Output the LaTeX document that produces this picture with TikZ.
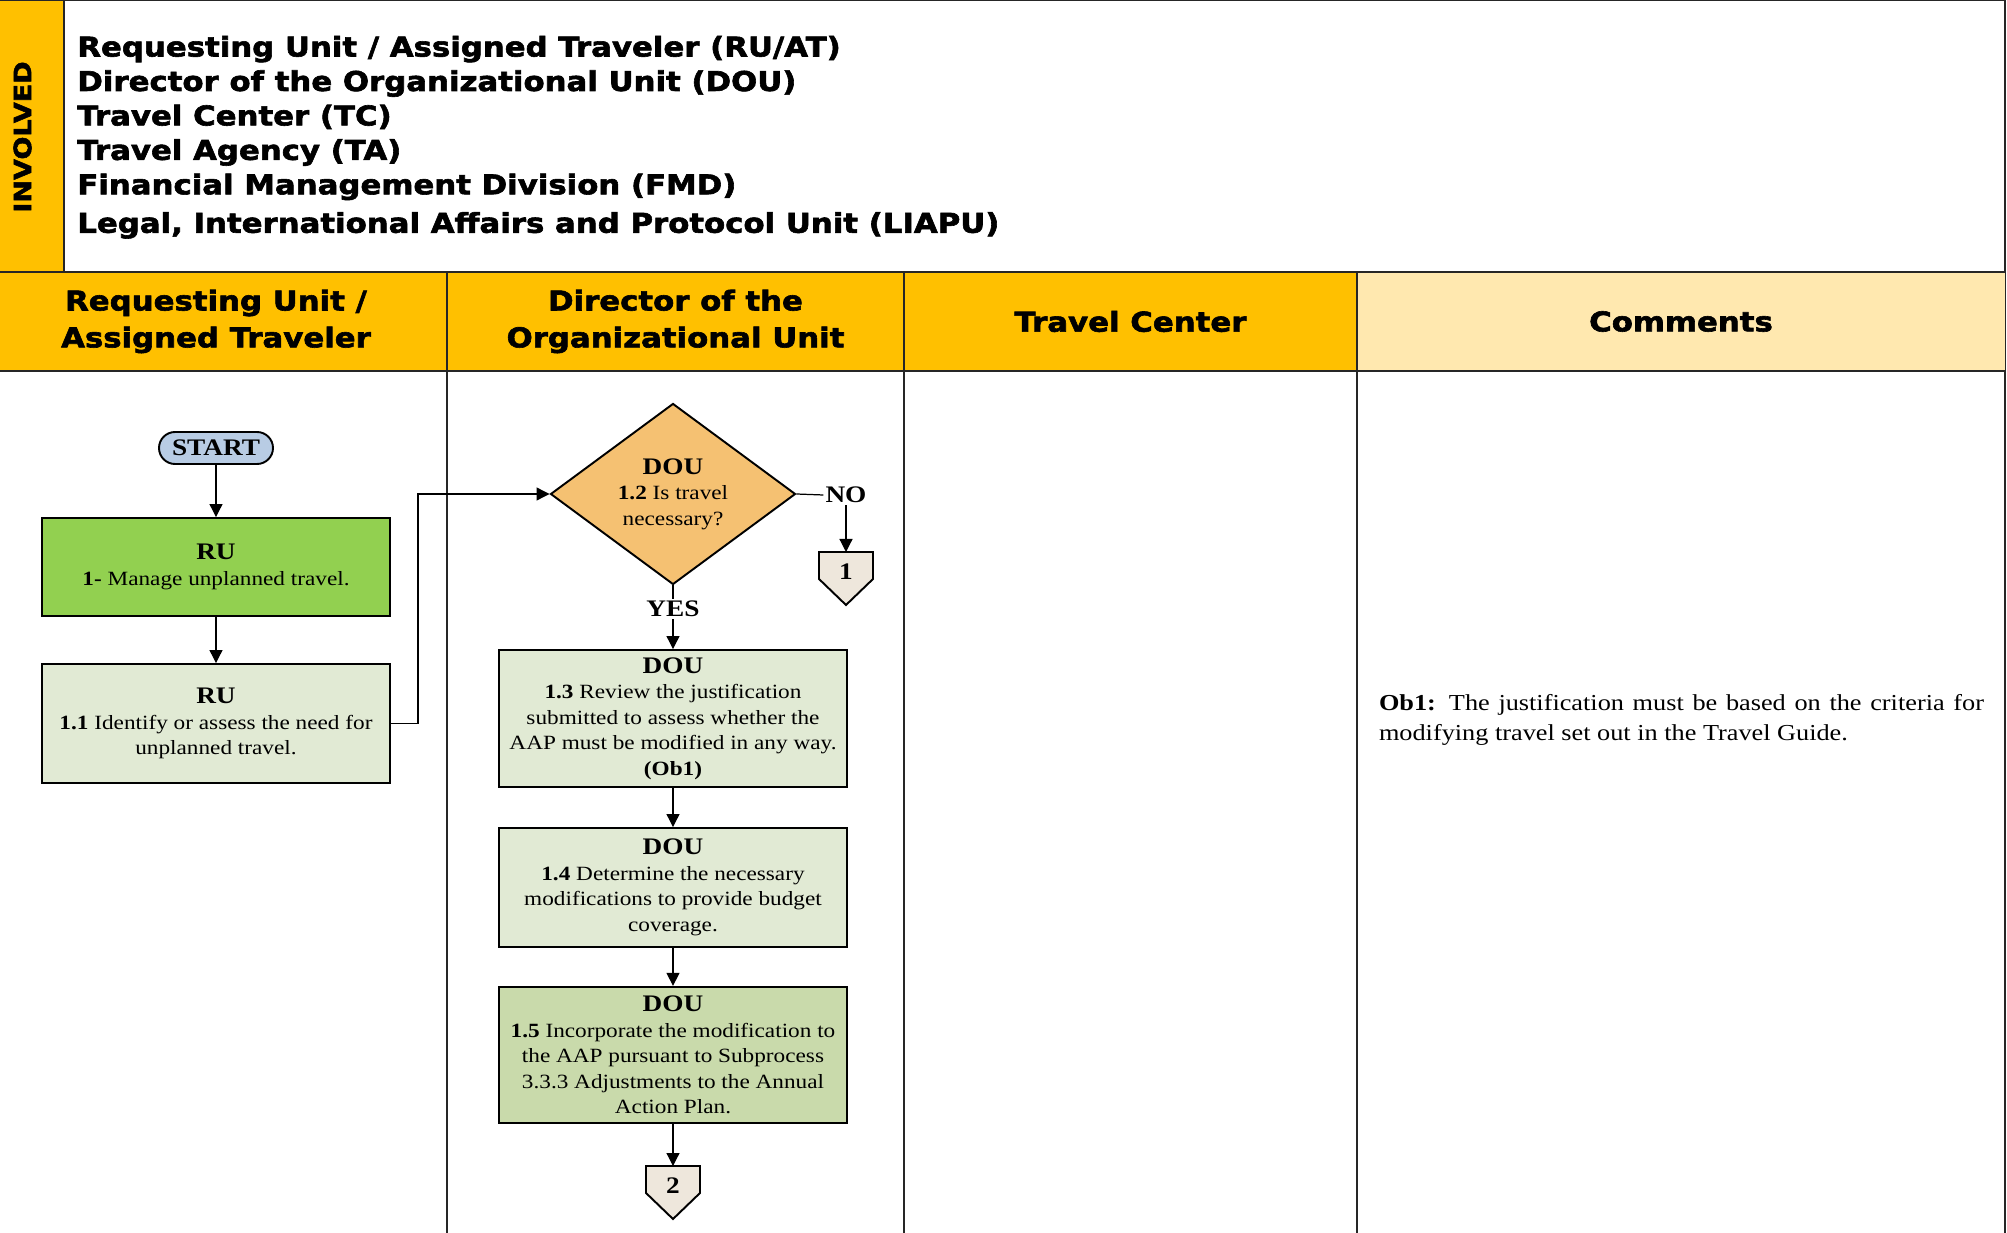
\documentclass[tikz,border=0pt]{standalone}
\usepackage{fontspec}
\setmainfont{Liberation Serif}[FakeStretch=1.15]
\newfontfamily\headfont{DejaVu Sans}[FakeStretch=1.13, BoldFeatures={FakeBold=2.2}]
\usetikzlibrary{shapes.geometric,arrows.meta}

\definecolor{laneyellow}{HTML}{FFC000}
\definecolor{notesyellow}{HTML}{FFE8AF}
\definecolor{startblue}{HTML}{B8CCE4}
\definecolor{stepgreen}{HTML}{92D050}
\definecolor{paleolive}{HTML}{E1EAD4}
\definecolor{midolive}{HTML}{C9DAAB}
\definecolor{askorange}{HTML}{F5C172}
\definecolor{linkbeige}{HTML}{EEE7DC}

\newcommand{\who}[1]{{\fontsize{13.5}{14.5}\selectfont\bfseries #1}}

\tikzset{
  frame/.style={line width=1.4pt, draw=black!85},
  hdr/.style={font=\headfont\bfseries\fontsize{15.5}{21}\selectfont, align=center, inner sep=0pt},
  task/.style={draw, line width=1.1pt, fill=paleolive, minimum width=6.96cm,
    align=center, inner sep=1pt, font=\fontsize{11.5}{14.5}\selectfont},
  ask/.style={draw, line width=1.1pt, fill=askorange, diamond, shape aspect=1.35,
    minimum width=4.9cm, minimum height=3.62cm, inner sep=0pt, align=center,
    font=\fontsize{11.5}{14.5}\selectfont},
  tag/.style={font=\bfseries\fontsize{13.5}{14.5}\selectfont, inner sep=1pt},
  flow/.style={-{Triangle[length=0.26cm,width=0.26cm]}, line width=0.7pt},
  offpage/.style={draw, line width=1.1pt, fill=linkbeige, line join=miter}
}

\begin{document}
\begin{tikzpicture}
    \useasboundingbox (0,0) rectangle (40.14,-24.66);

    % Involved parties
    \fill[laneyellow] (0,0) rectangle (1.28,-5.44);
    \draw[frame] (0,0) -- (40.10,0) -- (40.10,-24.66);
    \draw[frame] (1.28,0) -- (1.28,-5.44);
    \node[rotate=90, font=\headfont\bfseries\fontsize{13.6}{14}\selectfont] (involvedtag) at (0.45,-2.74) {INVOLVED};
    \node[anchor=north west, align=left, inner sep=0pt, font=\headfont\bfseries\fontsize{15.5}{19.6}\selectfont] (involved) at (1.54,-0.71)
      {Requesting Unit / Assigned Traveler (RU/AT)\\
       Director of the Organizational Unit (DOU)\\
       Travel Center (TC)\\
       Travel Agency (TA)\\
       Financial Management Division (FMD)\\[0.08cm]
       Legal, International Affairs and Protocol Unit (LIAPU)};

    % Lane headers
    \fill[laneyellow] (0,-5.44) rectangle (27.14,-7.42);
    \fill[notesyellow] (27.14,-5.44) rectangle (40.10,-7.42);
    \draw[frame] (0,-5.44) -- (40.10,-5.44);
    \draw[frame] (0,-7.42) -- (40.10,-7.42);
    \draw[frame] (8.94,-5.44) -- (8.94,-24.66);
    \draw[frame] (18.08,-5.44) -- (18.08,-24.66);
    \draw[frame] (27.14,-5.44) -- (27.14,-24.66);
    \node[hdr] (laneru) at (4.32,-6.43) {Requesting Unit /\\Assigned Traveler};
    \node[hdr] (lanedou) at (13.51,-6.43) {Director of the\\Organizational Unit};
    \node[hdr] (lanetc) at (22.61,-6.43) {Travel Center};
    \node[hdr] (lanenotes) at (33.62,-6.43) {Comments};

    % Requesting unit lane
    \node[draw, line width=1.1pt, fill=startblue, rounded corners=0.32cm, minimum width=2.28cm,
      minimum height=0.64cm, inner sep=0pt, font=\bfseries\fontsize{13.5}{14}\selectfont] (start) at (4.32,-8.96) {START};
    \node[task, fill=stepgreen, minimum height=1.96cm] (ru1) at (4.32,-11.34)
      {\who{RU}\\\textbf{1-} Manage unplanned travel.};
    \node[task, minimum height=2.38cm] (ru11) at (4.32,-14.47)
      {\who{RU}\\\textbf{1.1} Identify or assess the need for\\unplanned travel.};

    % Director lane
    \node[ask] (dou12) at (13.46,-9.88) {\who{DOU}\\\textbf{1.2} Is travel\\necessary?};
    \node[tag] (no) at (16.92,-9.90) {NO};
    \node[tag] (yes) at (13.46,-12.18) {YES};
    \node[task, minimum height=2.74cm] (dou13) at (13.46,-14.37)
      {\who{DOU}\\\textbf{1.3} Review the justification\\submitted to assess whether the\\AAP must be modified in any way.\\\textbf{(Ob1)}};
    \node[task, minimum height=2.38cm] (dou14) at (13.46,-17.75)
      {\who{DOU}\\\textbf{1.4} Determine the necessary\\modifications to provide budget\\coverage.};
    \node[task, fill=midolive, line width=1.3pt, minimum height=2.72cm] (dou15) at (13.46,-21.10)
      {\who{DOU}\\\textbf{1.5} Incorporate the modification to\\the AAP pursuant to Subprocess\\3.3.3 Adjustments to the Annual\\Action Plan.};

    % Off-page connectors
    \coordinate (off1) at (16.92,-11.04);
    \draw[offpage] (off1) ++(-0.54,0) -- ++(1.08,0) -- ++(0,-0.54) -- ++(-0.54,-0.52) -- ++(-0.54,0.52) -- cycle;
    \node[tag] (off1num) at ([yshift=-0.4cm]off1) {1};
    \coordinate (off2) at (13.46,-23.32);
    \draw[offpage] (off2) ++(-0.54,0) -- ++(1.08,0) -- ++(0,-0.54) -- ++(-0.54,-0.52) -- ++(-0.54,0.52) -- cycle;
    \node[tag] (off2num) at ([yshift=-0.4cm]off2) {2};

    % Comments
    \node[align=justify, text width=12.1cm, inner sep=0pt, font=\fontsize{13}{17}\selectfont] (ob1note) at (33.63,-14.40)
      {\textbf{Ob1:} The justification must be based on the criteria for\linebreak modifying travel set out in the Travel Guide.};

    % Connectors
    \coordinate (bend) at (8.36,-9.88);
    \draw[flow] (start) -- (ru1);
    \draw[flow] (ru1) -- (ru11);
    \draw[flow] (ru11.east) -| (bend) -- (dou12.west);
    \draw[line width=0.7pt] (dou12.east) -- (no.west);
    \draw[flow] (no.south) -- (off1);
    \draw[line width=0.7pt] (dou12.south) -- (yes.north);
    \draw[flow] (yes.south) -- (dou13.north);
    \draw[flow] (dou13) -- (dou14);
    \draw[flow] (dou14) -- (dou15);
    \draw[flow] (dou15.south) -- (off2);
\end{tikzpicture}
\end{document}
